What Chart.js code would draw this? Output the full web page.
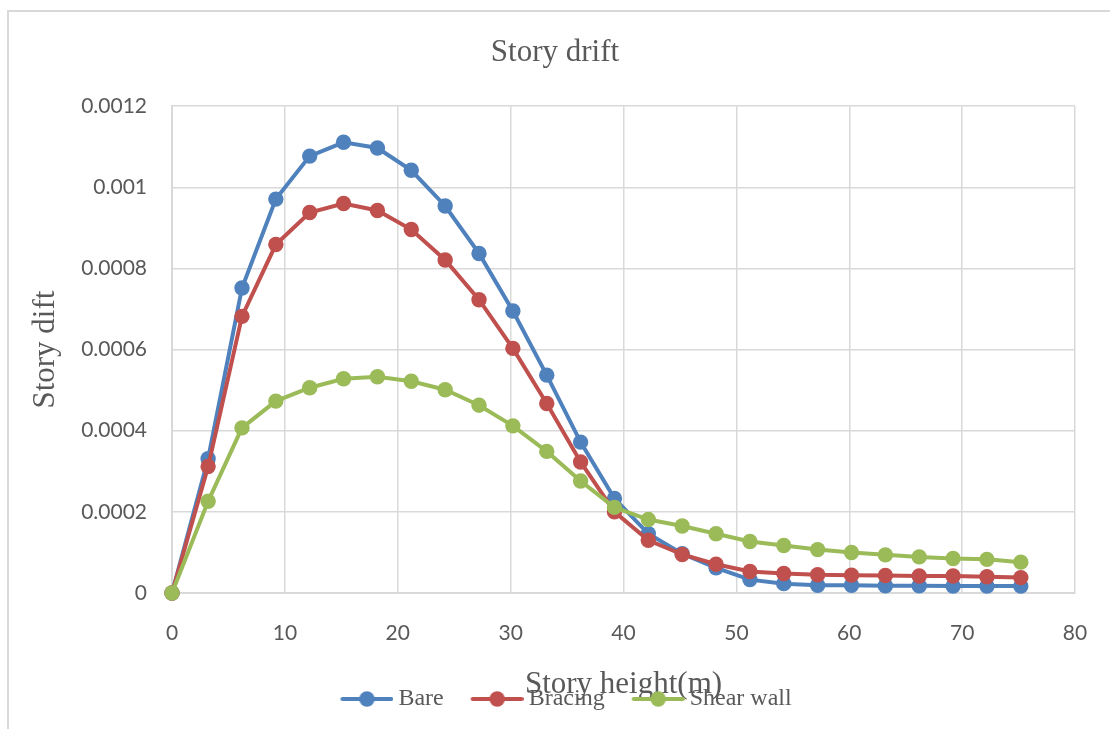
<!DOCTYPE html>
<html>
<head>
<meta charset="utf-8">
<title>Story drift</title>
<script src="https://cdn.jsdelivr.net/npm/chart.js@4.4.1/dist/chart.umd.min.js"></script>
<style>
    html, body { margin: 0; padding: 0; background: #fff; overflow: hidden; }
    #frame { position: absolute; left: 7px; top: 10px; width: 1200px; height: 800px; border: 2px solid #d9d9d9; }
    #wrap { position: absolute; left: 0; top: 0; width: 1110px; height: 729px; }
</style>
</head>
<body>
<div id="frame"></div>
<div id="wrap"><canvas id="driftChart"></canvas></div>
<script>
// story heights (m)
const heights = [0, 3.2, 6.2, 9.2, 12.2, 15.2, 18.2, 21.2, 24.2, 27.2, 30.2, 33.2, 36.2,
    39.2, 42.2, 45.2, 48.2, 51.2, 54.2, 57.2, 60.2, 63.2, 66.2, 69.2, 72.2, 75.2];

// story drift
const bare = [0, 0.000331, 0.000752, 0.000971, 0.001077, 0.001111, 0.001097, 0.001042, 0.000954,
    0.000837, 0.000695, 0.000537, 0.000372, 0.000233, 0.000146, 0.000097, 0.000062, 0.000033,
    0.000023, 0.000019, 0.000019, 0.000018, 0.000018, 0.000017, 0.000017, 0.000017];
const bracing = [0, 0.000312, 0.000682, 0.000859, 0.000938, 0.000960, 0.000943, 0.000896, 0.000821,
    0.000723, 0.000603, 0.000467, 0.000323, 0.000200, 0.000130, 0.000095, 0.000071, 0.000053,
    0.000048, 0.000045, 0.000044, 0.000043, 0.000042, 0.000042, 0.000040, 0.000038];
const shearWall = [0, 0.000226, 0.000407, 0.000473, 0.000506, 0.000528, 0.000533, 0.000522, 0.000501,
    0.000463, 0.000412, 0.000349, 0.000276, 0.000211, 0.000181, 0.000165, 0.000146, 0.000127,
    0.000117, 0.000107, 0.000100, 0.000094, 0.000089, 0.000085, 0.000083, 0.000076];

const seriesNames = ['Bare', 'Bracing', 'Shear wall'];
const seriesColors = ['#4f81bd', '#c0504d', '#9bbb59'];

const textColor = '#595959';
const gridColor = '#d9d9d9';

// legend marker: line with a dot, sitting in the right part of the icon
function legendIcon(color) {
    const c = document.createElement('canvas');
    c.width = 82;
    c.height = 18;
    const g = c.getContext('2d');
    g.strokeStyle = color;
    g.lineWidth = 4;
    g.lineCap = 'round';
    g.beginPath();
    g.moveTo(31, 9);
    g.lineTo(80, 9);
    g.stroke();
    g.fillStyle = color;
    g.beginPath();
    g.arc(55.5, 9, 7.7, 0, Math.PI * 2);
    g.fill();
    return c;
}
const icons = seriesColors.map(legendIcon);

function makeSet(i, values) {
    return {
        label: seriesNames[i],
        data: heights.map((h, k) => ({ x: h, y: values[k] })),
        borderColor: seriesColors[i],
        backgroundColor: seriesColors[i],
        borderWidth: 4,
        pointRadius: 7.7,
        pointHoverRadius: 7.7,
        pointBorderWidth: 0,
        tension: 0,
        clip: false,
        order: 3 - i
    };
}

new Chart(document.getElementById('driftChart'), {
    type: 'line',
    data: {
        datasets: [makeSet(0, bare), makeSet(1, bracing), makeSet(2, shearWall)]
    },
    options: {
        responsive: true,
        maintainAspectRatio: false,
        animation: false,
        layout: { padding: { left: 0, right: 0, top: 0, bottom: 8 } },
        plugins: {
            title: {
                display: true,
                text: 'Story drift',
                color: textColor,
                font: { family: 'Liberation Serif', size: 31, weight: 'normal' },
                padding: { top: 34, bottom: 35 }
            },
            legend: {
                position: 'bottom',
                labels: {
                    usePointStyle: true,
                    pointStyleWidth: 68,
                    padding: 5,
                    color: textColor,
                    font: { family: 'Liberation Serif', size: 24 },
                    sort: (a, b) => a.datasetIndex - b.datasetIndex,
                    generateLabels: function(chart) {
                        const items = Chart.defaults.plugins.legend.labels.generateLabels(chart);
                        items.forEach(item => { item.pointStyle = icons[item.datasetIndex]; });
                        return items;
                    }
                }
            },
            tooltip: { enabled: false }
        },
        scales: {
            x: {
                type: 'linear',
                min: 0,
                max: 80,
                ticks: {
                    stepSize: 10,
                    padding: 28,
                    color: textColor,
                    font: { family: 'Lato', size: 21 }
                },
                grid: { color: gridColor, lineWidth: 1.5, drawTicks: false },
                border: { color: gridColor, width: 2 },
                title: {
                    display: true,
                    text: 'Story height(m)',
                    color: textColor,
                    font: { family: 'Liberation Serif', size: 31 },
                    padding: { top: 0, bottom: -21.6 }
                },
                afterFit: function(scale) {
                    scale.height = 89;
                    scale.paddingRight = 35;
                }
            },
            y: {
                min: 0,
                max: 0.0012,
                ticks: {
                    stepSize: 0.0002,
                    padding: 25,
                    color: textColor,
                    font: { family: 'Lato', size: 21 },
                    callback: v => String(parseFloat(v.toFixed(4)))
                },
                grid: { color: gridColor, lineWidth: 1.5, drawTicks: false },
                border: { color: gridColor, width: 2 },
                title: {
                    display: true,
                    text: 'Story dift',
                    color: textColor,
                    font: { family: 'Liberation Serif', size: 31 },
                    padding: { top: 27, bottom: 0 }
                },
                afterFit: function(scale) {
                    scale.width = 172;
                }
            }
        }
    }
});
</script>
</body>
</html>
